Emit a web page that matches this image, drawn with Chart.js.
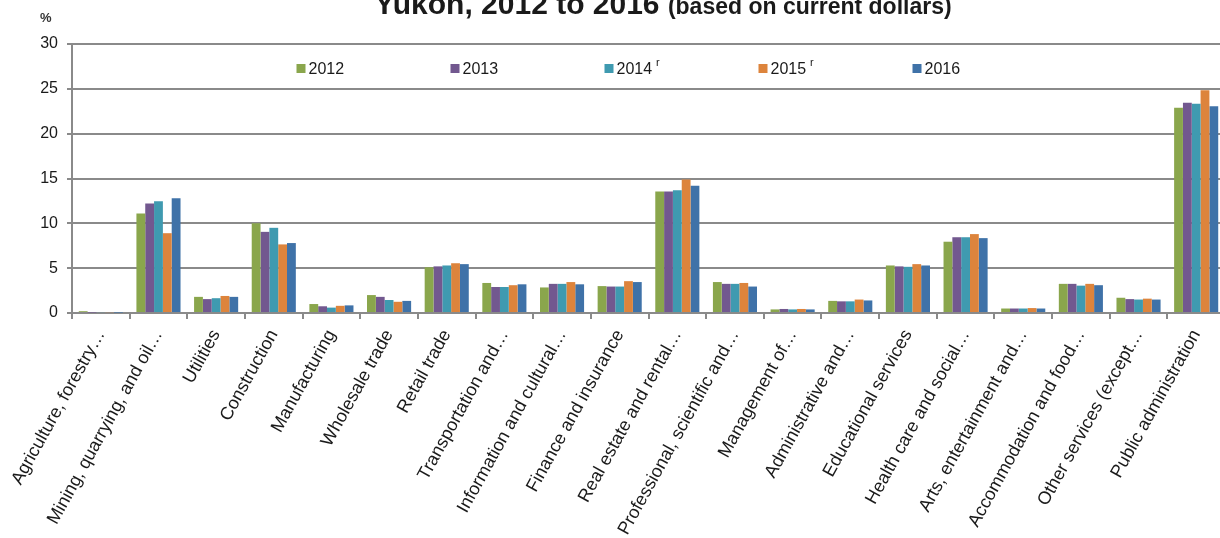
<!DOCTYPE html>
<html>
<head>
<meta charset="utf-8">
<script src="https://cdn.jsdelivr.net/npm/chart.js@4/dist/chart.umd.min.js"></script>
<style>
  html, body { margin: 0; padding: 0; background: #fff; overflow: hidden; }
  #wrap { position: absolute; left: 0; top: 0; width: 1226px; height: 538px; }
</style>
</head>
<body>
<div id="wrap"><canvas id="chart"></canvas></div>
<script>
const categories = [
    "Agriculture, forestry…", "Mining, quarrying, and oil…", "Utilities", "Construction",
    "Manufacturing", "Wholesale trade", "Retail trade", "Transportation and…",
    "Information and cultural…", "Finance and insurance", "Real estate and rental…",
    "Professional, scientific and…", "Management of…", "Administrative and…",
    "Educational services", "Health care and social…", "Arts, entertainment and…",
    "Accommodation and food…", "Other services (except…", "Public administration"
]

const years = ["2012", "2013", "2014", "2015", "2016"]
const revised = [false, false, true, true, false]
const colors = ["#8aa64c", "#72588f", "#3f9ab0", "#dd843c", "#3f72a8"]

const values2012 = [0.2, 11.1, 1.8, 10.0, 1.0, 2.0, 5.1, 3.35, 2.85, 3.0, 13.55, 3.45, 0.4, 1.35, 5.3, 7.95, 0.5, 3.25, 1.7, 22.9]
const values2013 = [0.05, 12.2, 1.55, 9.05, 0.75, 1.8, 5.2, 2.9, 3.25, 2.95, 13.55, 3.25, 0.45, 1.3, 5.2, 8.45, 0.5, 3.25, 1.55, 23.45]
const values2014 = [0.1, 12.45, 1.65, 9.5, 0.6, 1.45, 5.3, 2.9, 3.25, 2.95, 13.7, 3.25, 0.4, 1.3, 5.15, 8.45, 0.5, 3.05, 1.5, 23.35]
const values2015 = [0.1, 8.9, 1.9, 7.65, 0.8, 1.25, 5.55, 3.1, 3.45, 3.55, 14.9, 3.35, 0.45, 1.5, 5.45, 8.8, 0.55, 3.25, 1.6, 24.85]
const values2016 = [0.05, 12.8, 1.8, 7.8, 0.85, 1.35, 5.45, 3.2, 3.2, 3.45, 14.2, 2.95, 0.4, 1.4, 5.3, 8.35, 0.5, 3.1, 1.5, 23.05]

const yTicks = [0, 5, 10, 15, 20, 25, 30]

const seriesValues = [values2012, values2013, values2014, values2015, values2016]
const gridColor = "#8a8a8a"
const textColor = "#1a1a1a"
const fontFamily = "'Liberation Sans', Arial, sans-serif"

// title, % label and legend drawn inside the canvas
const decorPlugin = {
    id: "decor",
    afterDraw(chart) {
        const ctx = chart.ctx
        const area = chart.chartArea
        ctx.save()
        ctx.fillStyle = textColor
        ctx.textBaseline = "alphabetic"
        ctx.textAlign = "left"

        // title (top is cut off in the original)
        const t1 = "Yukon, 2012 to 2016 "
        const t2 = "(based on current dollars)"
        const f1 = "bold 30px " + fontFamily
        const f2 = "bold 23px " + fontFamily
        ctx.font = f1
        const w1 = ctx.measureText(t1).width
        ctx.font = f2
        const w2 = ctx.measureText(t2).width
        const x = 663 - (w1 + w2) / 2
        ctx.font = f1
        ctx.fillText(t1, x, 14)
        ctx.font = f2
        ctx.fillText(t2, x + w1, 14)

        // unit
        ctx.font = "bold 13px " + fontFamily
        ctx.fillStyle = "#333"
        ctx.fillText("%", 40, 22)

        // legend
        const startX = area.left + 224.5
        const step = 154
        chart.data.datasets.forEach((ds, i) => {
            const lx = startX + i * step
            ctx.fillStyle = ds.backgroundColor
            ctx.fillRect(lx, 64, 9, 9)
            ctx.fillStyle = textColor
            ctx.font = "16px " + fontFamily
            ctx.fillText(ds.label, lx + 12, 74)
            if (revised[i]) {
                const tw = ctx.measureText(ds.label).width
                ctx.font = "11px " + fontFamily
                ctx.fillText("r", lx + 12 + tw + 4, 66)
            }
        })
        ctx.restore()
    }
}

const datasets = years.map((year, i) => ({
    label: year,
    data: seriesValues[i],
    backgroundColor: colors[i],
    borderWidth: 0,
    categoryPercentage: 0.765,
    barPercentage: 1.0
}))

new Chart(document.getElementById("chart"), {
    type: "bar",
    data: { labels: categories, datasets: datasets },
    options: {
        responsive: true,
        maintainAspectRatio: false,
        animation: false,
        layout: { padding: { top: 44, right: 1, left: 0, bottom: 0 } },
        plugins: {
            legend: { display: false },
            title: { display: false },
            tooltip: { enabled: false }
        },
        scales: {
            x: {
                offset: true,
                grid: {
                    offset: true,
                    drawOnChartArea: false,
                    drawTicks: true,
                    tickLength: 6,
                    color: gridColor,
                    lineWidth: 2
                },
                border: { display: true, color: gridColor, width: 2 },
                ticks: {
                    autoSkip: false,
                    maxRotation: 61,
                    minRotation: 61,
                    padding: 7,
                    color: textColor,
                    font: { family: fontFamily, size: 18 }
                },
                afterFit(scale) { scale.height = 225 }
            },
            y: {
                min: 0,
                max: 30,
                afterBuildTicks(scale) { scale.ticks = yTicks.map(v => ({ value: v })) },
                grid: { color: gridColor, lineWidth: 2, tickLength: 5 },
                border: { display: true, color: gridColor, width: 2 },
                ticks: {
                    padding: 9,
                    color: textColor,
                    font: { family: fontFamily, size: 16 }
                },
                afterFit(scale) { scale.width = 72 }
            }
        }
    },
    plugins: [decorPlugin]
})
</script>
</body>
</html>
